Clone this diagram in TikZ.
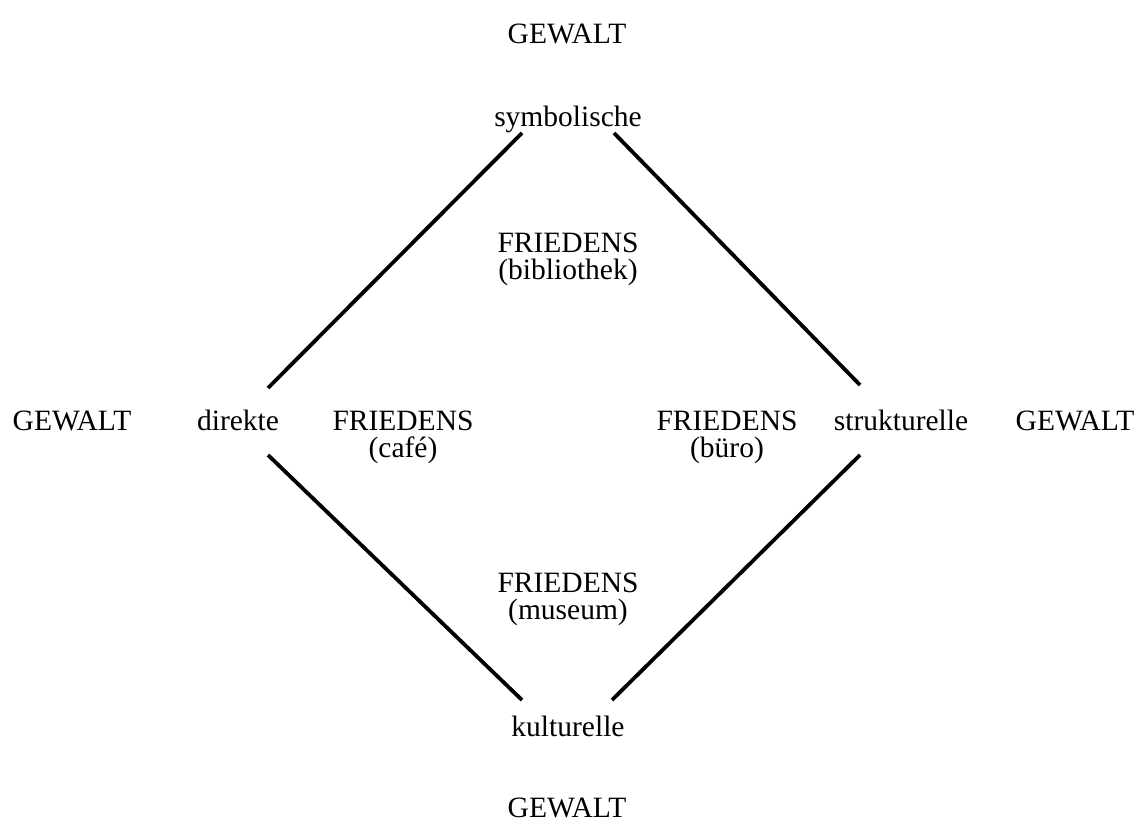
\documentclass[tikz,border=0pt]{standalone}
\usepackage{fontspec}
\setmainfont{Liberation Serif}
\begin{document}
\begin{tikzpicture}[x=1pt,y=-1pt,
  lbl/.style={inner sep=0pt,anchor=base,font=\fontsize{29.5}{27}\selectfont},
  two/.style={inner sep=0pt,anchor=center,align=center,font=\fontsize{29.5}{27}\selectfont},
  edge/.style={line width=3.8pt,line cap=butt}]
\useasboundingbox (0,0) rectangle (1135,824);
\node[lbl] (gtop) at (567,44) {GEWALT};
\node[lbl] (sym) at (568,127) {symbolische};
\node[two] (fbib) at (568,259) {FRIEDENS\\(bibliothek)};
\node[lbl] (gleft) at (72,430) {GEWALT};
\node[lbl] (dir) at (238,430) {direkte};
\node[two] (fcafe) at (403,437) {FRIEDENS\\(café)};
\node[two] (fbuero) at (727,437) {FRIEDENS\\(büro)};
\node[lbl] (str) at (901,430) {strukturelle};
\node[lbl] (gright) at (1075,430) {GEWALT};
\node[two] (fmus) at (568,599) {FRIEDENS\\(museum)};
\node[lbl] (kult) at (568,736) {kulturelle};
\node[lbl] (gbot) at (567,817) {GEWALT};
\coordinate (a1) at (268,388); \coordinate (a2) at (522,133);
\coordinate (b1) at (614,133); \coordinate (b2) at (860,385);
\coordinate (c1) at (268,455); \coordinate (c2) at (522,700);
\coordinate (d1) at (612,700); \coordinate (d2) at (860,455);
\draw[edge] (a1) -- (a2);
\draw[edge] (b1) -- (b2);
\draw[edge] (c1) -- (c2);
\draw[edge] (d1) -- (d2);
\end{tikzpicture}
\end{document}
